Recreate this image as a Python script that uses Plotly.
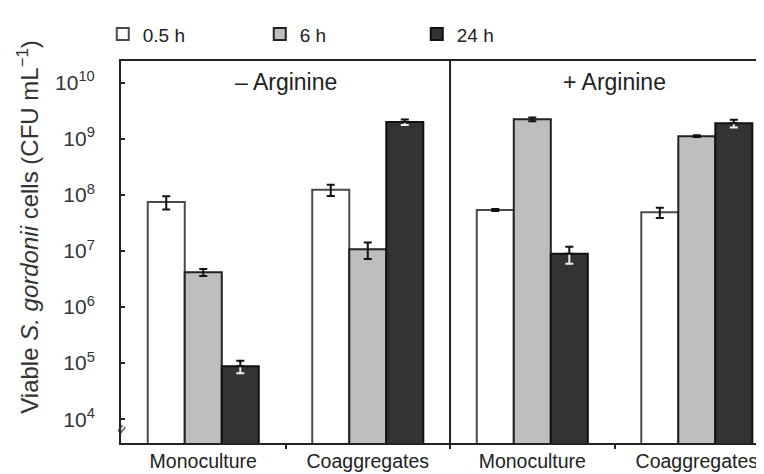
import plotly.graph_objects as go

# Data
categories = ["Monoculture", "Coaggregates", "Monoculture", "Coaggregates"]
x_pos = [0, 1, 2, 3]
series_names = ["0.5 h", "6 h", "24 h"]
vals_05h = [7.5e7, 1.24e8, 5.4e7, 4.9e7]
vals_6h = [4.2e6, 1.07e7, 2.24e9, 1.12e9]
vals_24h = [8.8e4, 2.0e9, 8.9e6, 1.9e9]
err_05h = [2.0e7, 2.8e7, 2.0e6, 1.0e7]
err_6h = [0.6e6, 3.5e6, 1.8e8, 4.0e7]
err_24h = [2.2e4, 2.3e8, 3.0e6, 3.0e8]
panel_labels = ["\u2013 Arginine", "+ Arginine"]
ytick_vals = [1e4, 1e5, 1e6, 1e7, 1e8, 1e9, 1e10]
ytick_text = ["10<sup>4</sup>", "10<sup>5</sup>", "10<sup>6</sup>", "10<sup>7</sup>",
              "10<sup>8</sup>", "10<sup>9</sup>", "10<sup>10</sup>"]

FONT = "Liberation Sans, Arial, sans-serif"
fills = ["#ffffff", "#bebebe", "#333333"]
outlines = ["#4a4a4a", "#222222", "#111111"]

fig = go.Figure()
all_vals = [vals_05h, vals_6h, vals_24h]
all_errs = [err_05h, err_6h, err_24h]
for i, (name, v, e) in enumerate(zip(series_names, all_vals, all_errs)):
    low_color = "#f0f0f0" if i == 2 else "#111111"
    fig.add_trace(go.Bar(
        x=x_pos, y=v, name=name, offsetgroup=str(i),
        marker=dict(color=fills[i], line=dict(color=outlines[i], width=2)),
        error_y=dict(type="data", symmetric=False, array=e, arrayminus=e,
                     color=low_color, thickness=2, width=4),
    ))
    if i == 2:
        fig.add_trace(go.Bar(
            x=x_pos, y=v, name=name, offsetgroup=str(i), showlegend=False,
            marker=dict(color="rgba(0,0,0,0)", line=dict(width=0)),
            error_y=dict(type="data", symmetric=False, array=e,
                         arrayminus=[0] * len(e), color="#111111",
                         thickness=2, width=4),
            hoverinfo="skip",
        ))

fig.update_layout(
    width=764, height=474,
    margin=dict(l=113, r=0, t=53, b=39),
    paper_bgcolor="white", plot_bgcolor="white",
    barmode="group", bargap=0.325, bargroupgap=0,
    font=dict(family=FONT, color="#222222"),
    showlegend=True,
    legend=dict(orientation="h", x=-0.028, xanchor="left", y=1.07, yanchor="middle",
                font=dict(size=19, color="#222222"), entrywidth=112,
                itemwidth=30, traceorder="normal"),
)

fig.update_xaxes(
    range=[-0.5, 3.457], tickmode="array", tickvals=x_pos, ticktext=categories,
    ticks="", showline=True, linecolor="#222222", linewidth=2, mirror=True,
    showgrid=False, zeroline=False, tickfont=dict(size=19.5, color="#222222"),
    minor=dict(tickmode="array", tickvals=[0.5, 1.5, 2.5], ticks="outside",
               ticklen=4, tickwidth=2, tickcolor="#222222", showgrid=False),
    automargin=False,
)
fig.update_yaxes(
    type="log", range=[3.575, 10.39], tickmode="array", tickvals=ytick_vals,
    ticktext=ytick_text, ticks="inside", ticklen=4, tickwidth=1.5, tickcolor="#222222",
    showline=True, linecolor="#222222", linewidth=2, showgrid=False, zeroline=False,
    tickfont=dict(size=21, color="#333333"), automargin=False,
    ticklabelstandoff=20,
)

# Panel divider
fig.add_shape(type="line", xref="x", yref="paper", x0=1.5, x1=1.5, y0=0, y1=1,
              line=dict(color="#222222", width=2))

# Panel labels
for xc, lab in zip([0.5, 2.5], panel_labels):
    fig.add_annotation(x=xc, xref="x", y=0.945, yref="paper", text=lab,
                       showarrow=False, font=dict(size=23, color="#222222"),
                       xanchor="center", yanchor="middle")

# Y axis title
fig.add_annotation(
    x=-0.142, xref="paper", y=0.565, yref="paper",
    text="Viable <i>S. gordonii</i> cells (CFU mL<sup>\u22121</sup>)",
    textangle=-90, showarrow=False, font=dict(size=24, color="#333333"),
    xanchor="center", yanchor="middle",
)

# Axis break mark
fig.add_annotation(x=0, xref="paper", y=0.036, yref="paper", text="\u2248",
                   textangle=-60, showarrow=False,
                   font=dict(size=16, color="#333333"),
                   xanchor="center", yanchor="middle")

fig.write_html("out.html")
